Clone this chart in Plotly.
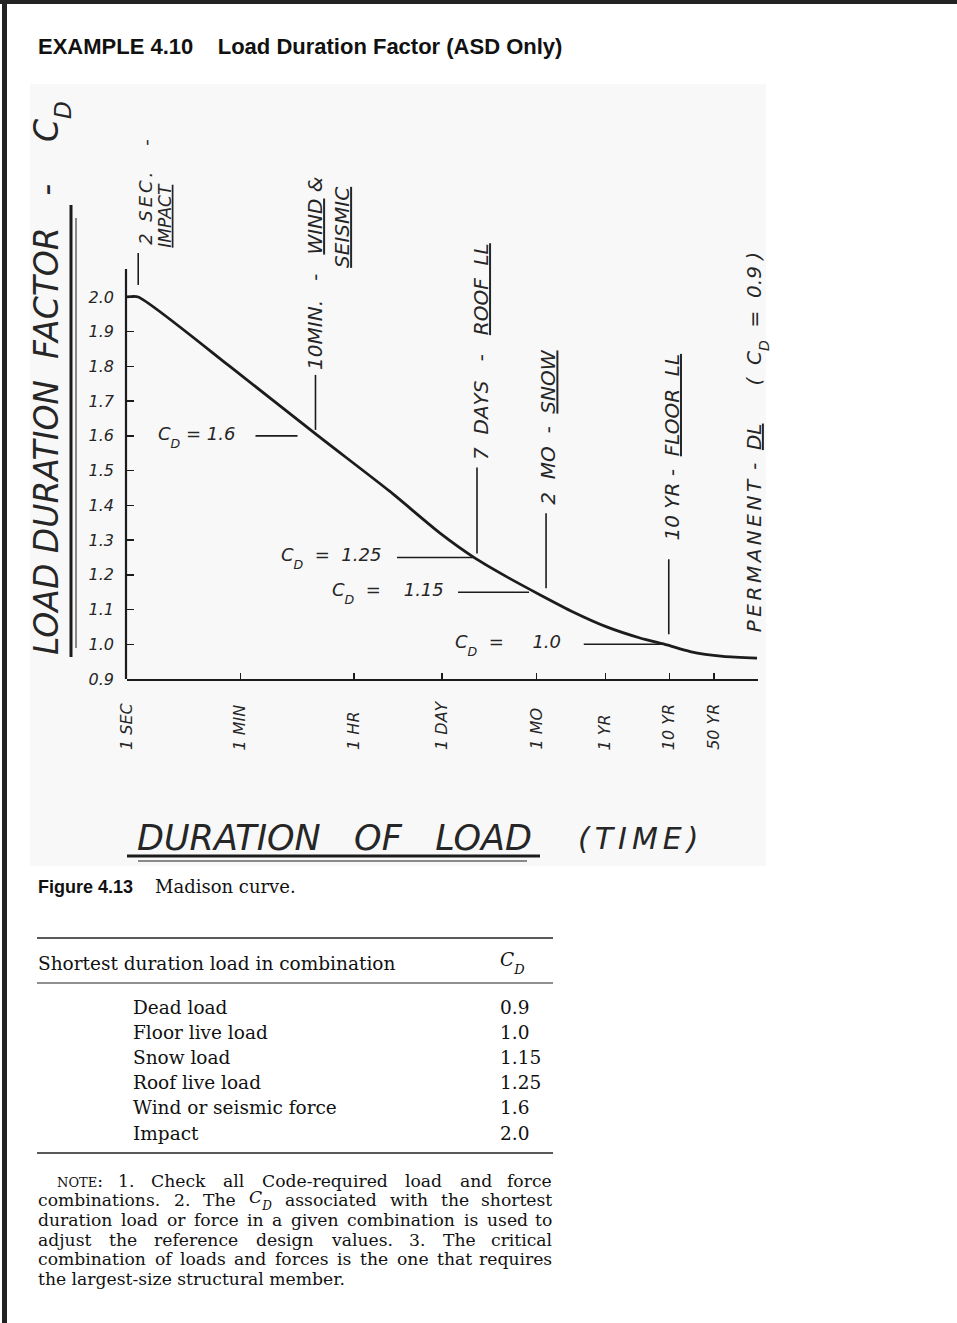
import re
import numpy as np
import plotly.graph_objects as go

W, H = 957, 1323          # reference page size (all positions below are read in this frame)
H_FIG = 1333              # the capture is ~10 px taller than the window; fill it

# ---------------- data ----------------
curve_seconds = [1, 1.5, 41, 990, 13200, 80500, 285000, 9.0e5, 3.0e6, 9.8e6,
                 3.3e7, 1.1e8, 2.9e8, 6.7e8, 2.2e9, 7.5e9]
curve_cd = [2.0, 2.0, 1.80, 1.60, 1.44, 1.32, 1.248, 1.194, 1.142, 1.093,
            1.05, 1.018, 0.998, 0.979, 0.965, 0.96]

time_tick_seconds = [1, 60, 3600, 86400, 2.63e6, 3.156e7, 3.156e8, 1.578e9]
time_tick_labels = ["1 SEC", "1 MIN", "1 HR", "1 DAY", "1 MO", "1 YR", "10 YR", "50 YR"]

cd_tick_values = [0.9, 1.0, 1.1, 1.2, 1.3, 1.4, 1.5, 1.6, 1.7, 1.8, 1.9, 2.0]
cd_tick_labels = ["0.9", "1.0", "1.1", "1.2", "1.3", "1.4", "1.5", "1.6", "1.7", "1.8", "1.9", "2.0"]

callout_seconds = [1.5, 900, 306000, 3.7e6, 3.1e8]
callout_cd = [2.0, 1.6, 1.25, 1.15, 1.0]
callout_text = [["2  {S}    -", "<u>IMPACT</u>"],
                ["10MIN.   -   <u>WIND</u> &", "<u>SEISMIC</u>"],
                ["7  DAYS   -   <u>ROOF  LL</u>"],
                ["2  MO  -  <u>SNOW</u>"],
                ["10 YR -  <u>FLOOR  LL</u>"]]
cd_label_text = [None, "C{D} = 1.6", "C{D}  =  1.25", "C{D}  =    1.15", "C{D}  =     1.0"]

permanent_seconds = 7.5e9
permanent_cd = 0.96
permanent_text = "{P} -  <u>DL</u>      (  C{D}  =  0.9 )"

table_loads = ["Dead load", "Floor live load", "Snow load", "Roof live load",
               "Wind or seismic force", "Impact"]
table_cd = ["0.9", "1.0", "1.15", "1.25", "1.6", "2.0"]

note_lines = [
    "NOTE: 1. Check all Code-required load and force",
    "combinations. 2. The C_D associated with the shortest",
    "duration load or force in a given combination is used to",
    "adjust the reference design values. 3. The critical",
    "combination of loads and forces is the one that requires",
    "the largest-size structural member.",
]

# ---------------- styles / layout positions (pixels) ----------------
INK = "#1c1c1c"
HINK = "#262626"
HAND = "DejaVu Sans"
SERIF = "DejaVu Serif"
SANS = "Liberation Sans"

X_LEFT, X_RIGHT = 127, 758
Y_BOTTOM, Y_AXTOP, Y_DOMTOP = 679, 269, 230
PX_PER_CD = 347.3
X_RANGE = [0, 9.89]
PPD = (X_RIGHT - X_LEFT) / (X_RANGE[1] - X_RANGE[0])
Y_RANGE_TOP = 0.9 + (Y_BOTTOM - Y_DOMTOP) / PX_PER_CD
Y_LINE_TOP = 0.9 + (Y_BOTTOM - Y_AXTOP) / PX_PER_CD

vleader_px = [(12, 44), (6, 61), (4, 90), (4, 79), (10, 85)]
hleader_px = [None, (-60, -18), (-80, -4), (-88, -17), (-85, -6)]
cdlabel_right_px = [None, -78, -94, -100, -106]
callout_text_pos = [[(7, 50), (27, 47)], [(0, 64), (27, 166)], [(4, 95)], [(2, 85)], [(3, 102)]]
callout_font = [[18, 17], [20, 20], [20], [20], [20]]


def X(px):
    return px / W


def Y(py):
    return 1 - py / H


def nb(s):
    parts = re.split(r"(<[^>]+>)", s)
    return "".join(p if p.startswith("<") else p.replace(" ", "\u00a0") for p in parts)


def sub(t):
    return "<span style='font-size:70%;baseline-shift:sub'>" + t + "</span>"


def spaced(t, px):
    return "<span style='letter-spacing:" + str(px) + "px'>" + t + "</span>"


def fill(s):
    s = nb(s)
    s = s.replace("{D}", sub("D"))
    s = s.replace("{P}", spaced("PERMANENT", 3.5))
    s = s.replace("{S}", spaced("SEC.", 3))
    return s


def hand(size):
    return dict(family=HAND, size=size, color=HINK, style="italic")


fig = go.Figure()
fig.add_trace(go.Scatter(
    x=curve_seconds, y=curve_cd, mode="lines",
    line=dict(color=INK, width=2.8, shape="spline", smoothing=0.6),
    hoverinfo="skip", showlegend=False))

shapes = []
ann = []

# page frame and scanned-figure background
shapes.append(dict(type="rect", xref="paper", yref="paper", x0=X(30), x1=X(766), y0=Y(866), y1=Y(84),
                   fillcolor="#f8f8f8", line_width=0, layer="below"))
shapes.append(dict(type="rect", xref="paper", yref="paper", x0=0, x1=1, y0=Y(4), y1=1,
                   fillcolor="#222222", line_width=0))
shapes.append(dict(type="rect", xref="paper", yref="paper", x0=X(2), x1=X(7), y0=0, y1=1,
                   fillcolor="#222222", line_width=0))

# y axis line (stops at its top end as in the drawing)
shapes.append(dict(type="line", xref="paper", yref="y", x0=X(X_LEFT - 1), x1=X(X_LEFT - 1),
                   y0=0.9, y1=Y_LINE_TOP, line=dict(color=INK, width=2.2)))

# leaders for the callouts
for s, cd, (a, b) in zip(callout_seconds, callout_cd, vleader_px):
    shapes.append(dict(type="line", xref="x", yref="y", ysizemode="pixel",
                       yanchor=cd, x0=s, x1=s, y0=a, y1=b,
                       line=dict(color=INK, width=1.6)))
for s, cd, hl in zip(callout_seconds, callout_cd, hleader_px):
    if hl is None:
        continue
    shapes.append(dict(type="line", xref="x", yref="y",
                       x0=s * 10 ** (hl[0] / PPD), x1=s * 10 ** (hl[1] / PPD), y0=cd, y1=cd,
                       line=dict(color=INK, width=1.6)))

# callout texts (rotated)
for s, cd, texts, poss, fs in zip(callout_seconds, callout_cd, callout_text, callout_text_pos, callout_font):
    for t, (dx, up), f in zip(texts, poss, fs):
        ann.append(dict(xref="x", yref="y", x=np.log10(s), y=cd, xshift=dx, yshift=up,
                        text=fill(t), textangle=-90, xanchor="center", yanchor="bottom",
                        showarrow=False, font=hand(f)))
for s, cd, t, r in zip(callout_seconds, callout_cd, cd_label_text, cdlabel_right_px):
    if t is None:
        continue
    ann.append(dict(xref="x", yref="y", x=np.log10(s), y=cd, xshift=r, yshift=-1,
                    text=fill(t), xanchor="right", yanchor="middle",
                    showarrow=False, font=hand(18)))
ann.append(dict(xref="x", yref="y", x=np.log10(permanent_seconds), y=permanent_cd, xshift=0, yshift=24,
                text=fill(permanent_text), textangle=-90, xanchor="center", yanchor="bottom",
                showarrow=False, font=hand(20)))

# time tick labels
for s, lab in zip(time_tick_seconds, time_tick_labels):
    ann.append(dict(xref="x", yref="paper", x=np.log10(s), y=Y(752), text=nb(lab), textangle=-90,
                    xanchor="center", yanchor="bottom", showarrow=False, font=hand(16)))

# axis titles
ann.append(dict(xref="paper", yref="paper", x=X(51), y=Y(657),
                text=fill("LOAD DURATION  FACTOR   -    C{D}"), textangle=-90,
                xanchor="center", yanchor="bottom", showarrow=False, font=hand(33)))
shapes.append(dict(type="line", xref="paper", yref="paper", x0=X(71), x1=X(71), y0=Y(657), y1=Y(205),
                   line=dict(color=INK, width=3)))
shapes.append(dict(type="line", xref="paper", yref="paper", x0=X(76), x1=X(76), y0=Y(648), y1=Y(218),
                   line=dict(color="#8a8a8a", width=2)))

ann.append(dict(xref="paper", yref="paper", x=X(135), y=Y(838),
                text=nb("DURATION   OF   LOAD"), xanchor="left", yanchor="middle",
                showarrow=False, font=hand(35)))
ann.append(dict(xref="paper", yref="paper", x=X(576), y=Y(838),
                text=spaced("(TIME)", 5), xanchor="left", yanchor="middle",
                showarrow=False, font=hand(30)))
shapes.append(dict(type="line", xref="paper", yref="paper", x0=X(127), x1=X(540), y0=Y(856), y1=Y(856),
                   line=dict(color=INK, width=3)))
shapes.append(dict(type="line", xref="paper", yref="paper", x0=X(138), x1=X(527), y0=Y(861), y1=Y(861),
                   line=dict(color="#8a8a8a", width=2)))

# page title and caption
ann.append(dict(xref="paper", yref="paper", x=X(36), y=Y(47),
                text=nb("<b>EXAMPLE 4.10    Load Duration Factor (ASD Only)</b>"),
                xanchor="left", yanchor="middle", showarrow=False,
                font=dict(family=SANS, size=22, color="#111111")))
ann.append(dict(xref="paper", yref="paper", x=X(36), y=Y(887), text="<b>Figure 4.13</b>",
                xanchor="left", yanchor="middle", showarrow=False,
                font=dict(family=SANS, size=18, color="#111111")))
ann.append(dict(xref="paper", yref="paper", x=X(153), y=Y(887), text="Madison curve.",
                xanchor="left", yanchor="middle", showarrow=False,
                font=dict(family=SERIF, size=18, color="#111111")))

# table
TFONT = dict(family=SERIF, size=18.5, color="#111111")
for yy, wdt in [(938, 1.5), (983, 1.2), (1153, 1.5)]:
    shapes.append(dict(type="line", xref="paper", yref="paper", x0=X(37), x1=X(553), y0=Y(yy), y1=Y(yy),
                       line=dict(color="#222222", width=wdt)))
ann.append(dict(xref="paper", yref="paper", x=X(36), y=Y(963), text="Shortest duration load in combination",
                xanchor="left", yanchor="middle", showarrow=False, font=TFONT))
ann.append(dict(xref="paper", yref="paper", x=X(498), y=Y(963), text="<i>C" + sub("D") + "</i>",
                xanchor="left", yanchor="middle", showarrow=False, font=TFONT))
for i, (ld, v) in enumerate(zip(table_loads, table_cd)):
    yy = 1007 + 25.2 * i
    ann.append(dict(xref="paper", yref="paper", x=X(131), y=Y(yy), text=ld,
                    xanchor="left", yanchor="middle", showarrow=False, font=TFONT))
    ann.append(dict(xref="paper", yref="paper", x=X(498), y=Y(yy), text=v,
                    xanchor="left", yanchor="middle", showarrow=False, font=TFONT))

# note paragraph (justified by distributing words)
NSIZE = 17.2
EM = {' ': .318, 'a': .596, 'b': .640, 'c': .561, 'd': .640, 'e': .592, 'f': .360, 'g': .640,
      'h': .644, 'i': .321, 'j': .313, 'k': .613, 'l': .321, 'm': .948, 'n': .644, 'o': .602,
      'p': .640, 'q': .640, 'r': .478, 's': .513, 't': .402, 'u': .644, 'v': .565, 'w': .838,
      'x': .565, 'y': .565, 'z': .524, '.': .318, '-': .339, ':': .337, ',': .318,
      'C': .732, 'D': .795, 'N': .795, 'O': .787, 'T': .669, 'E': .691}


def word_html(w):
    if w == "C_D":
        return "<i>C" + sub("D") + "</i>", 1.29
    if w == "NOTE:":
        return "<span style='font-size:13px'>NOTE</span>:", 2.5
    est = sum(EM.get(ch, .636 if ch.isdigit() else .6) for ch in w)
    return w, est


NF = dict(family=SERIF, size=NSIZE, color="#111111")
for li, line in enumerate(note_lines):
    yy = 1180.5 + 19.7 * li
    left = 56 if li == 0 else 37
    right = 553
    words = [word_html(w) for w in line.split(" ")]
    if li == len(note_lines) - 1:
        ann.append(dict(xref="paper", yref="paper", x=X(left), y=Y(yy),
                        text=" ".join(w[0] for w in words),
                        xanchor="left", yanchor="middle", showarrow=False, font=NF, borderpad=0))
        continue
    widths = [w[1] * NSIZE for w in words]
    gap = (right - left - sum(widths)) / (len(words) - 1)
    xpos = left
    for k, ((html, _), wd) in enumerate(zip(words, widths)):
        if k == len(words) - 1:
            ann.append(dict(xref="paper", yref="paper", x=X(right), y=Y(yy), text=html,
                            xanchor="right", yanchor="middle", showarrow=False, font=NF, borderpad=0))
        else:
            ann.append(dict(xref="paper", yref="paper", x=X(xpos), y=Y(yy), text=html,
                            xanchor="left", yanchor="middle", showarrow=False, font=NF, borderpad=0))
        xpos += wd + gap

fig.update_layout(
    width=W, height=H_FIG, autosize=False,
    margin=dict(l=0, r=0, t=0, b=0),
    paper_bgcolor="white", plot_bgcolor="rgba(0,0,0,0)",
    showlegend=False,
    xaxis=dict(type="log", range=X_RANGE, domain=[X(X_LEFT), X(X_RIGHT)],
               showline=True, linecolor=INK, linewidth=2.2,
               ticks="inside", tickvals=time_tick_seconds, ticklen=6, tickwidth=1.5, tickcolor=INK,
               showticklabels=False, showgrid=False, zeroline=False),
    yaxis=dict(range=[0.9, Y_RANGE_TOP], domain=[Y(Y_BOTTOM), Y(Y_DOMTOP)],
               showline=False,
               ticks="inside", tickvals=cd_tick_values, ticktext=cd_tick_labels,
               ticklen=7, tickwidth=1.5, tickcolor=INK,
               tickfont=dict(family=HAND, size=16, color=HINK, style="italic"),
               ticklabelstandoff=12, showgrid=False, zeroline=False),
    shapes=shapes,
    annotations=ann,
)

POST = (
    "document.documentElement.style.overflow='hidden';"
    "document.body.style.margin='0px';"
    "document.body.style.overflow='hidden';"
    "var gds=document.getElementsByClassName('plotly-graph-div');"
    "if(gds.length){gds[0].style.position='fixed';gds[0].style.left='0px';gds[0].style.top='0px';}"
)
fig.write_html("out.html", config={"staticPlot": True, "displayModeBar": False}, post_script=POST)
